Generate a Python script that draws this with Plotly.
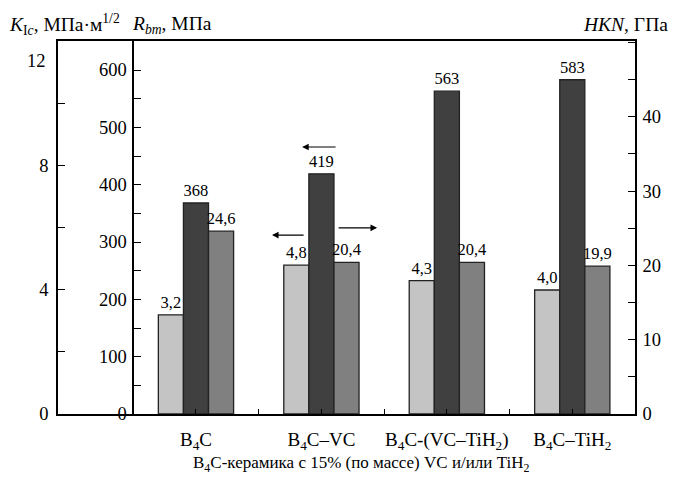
import plotly.graph_objects as go

categories = ["B<sub>4</sub>C", "B<sub>4</sub>C–VC", "B<sub>4</sub>C-(VC–TiH<sub>2</sub>)", "B<sub>4</sub>C–TiH<sub>2</sub>"]
k_ic = [3.2, 4.8, 4.3, 4.0]
r_bm = [368, 419, 563, 583]
hkn = [24.6, 20.4, 20.4, 19.9]

k_ticks = [0, 4, 8]
r_ticks = [0, 100, 200, 300, 400, 500, 600]
h_ticks = [0, 10, 20, 30, 40]

FONT = "Liberation Serif, Times New Roman, serif"
xpos = list(range(len(categories)))


def fmt(v, nd):
    return (f"{v:.{nd}f}").replace(".", ",")


fig = go.Figure()
common = dict(width=0.2, cliponaxis=False, textposition="outside",
              constraintext="none", textfont=dict(family=FONT, size=16.5, color="black"),
              showlegend=False, hoverinfo="skip")
fig.add_trace(go.Bar(x=xpos, y=k_ic, offset=-0.3, yaxis="y",
                     marker=dict(color="#c4c4c4", line=dict(color="#222222", width=1.3)),
                     text=[fmt(v, 1) for v in k_ic], **common))
fig.add_trace(go.Bar(x=xpos, y=r_bm, offset=-0.1, yaxis="y2",
                     marker=dict(color="#404040", line=dict(color="#222222", width=1.3)),
                     text=[fmt(v, 0) for v in r_bm], **common))
fig.add_trace(go.Bar(x=xpos, y=hkn, offset=0.1, yaxis="y3",
                     marker=dict(color="#808080", line=dict(color="#222222", width=1.3)),
                     text=[fmt(v, 1) for v in hkn], **common))

L, R, T, B = 58, 38, 41, 66
W, H = 673, 480
pw = W - L - R
ph = H - T - B

TICK_SIZE = 18.5
axis_common = dict(showgrid=False, zeroline=False, showline=True, linecolor="black",
                   linewidth=1.5, ticks="inside", ticklen=7, tickwidth=1.3, tickcolor="black",
                   tickfont=dict(family=FONT, size=TICK_SIZE, color="black"))

fig.update_layout(
    width=W, height=H,
    margin=dict(l=L, r=R, t=T, b=B, autoexpand=False),
    plot_bgcolor="white", paper_bgcolor="white",
    barmode="overlay",
    font=dict(family=FONT, size=16, color="black"),
    xaxis=dict(range=[-1.1, 3.5], tickvals=xpos, ticktext=categories,
               showgrid=False, zeroline=False, showline=True, mirror=True,
               linecolor="black", linewidth=1.5, ticks="inside", ticklen=5,
               tickwidth=1.3, tickcolor="black", ticklabelstandoff=7,
               tickfont=dict(family=FONT, size=19, color="black"),
               minor=dict(tickvals=[0.5, 1.5, 2.5], ticks="inside", ticklen=5,
                          tickwidth=1.3, tickcolor="black")),
    yaxis=dict(range=[0, 12.03], tickvals=k_ticks, side="left", anchor="x",
               minor=dict(tickvals=[2, 6, 10], ticks="inside", ticklen=7, tickwidth=1.3,
                          tickcolor="black"),
               ticklabelstandoff=4, **axis_common),
    yaxis2=dict(range=[0, 650.6], tickvals=r_ticks, side="left", overlaying="y",
                anchor="free", position=(133.3 - L) / pw,
                minor=dict(dtick=50, tick0=0, ticks="inside", ticklen=7, tickwidth=1.3,
                           tickcolor="black"),
                ticklabelstandoff=2, **axis_common),
    yaxis3=dict(range=[0, 50.2], tickvals=h_ticks, side="right", overlaying="y",
                anchor="x",
                minor=dict(dtick=5, tick0=0, ticks="inside", ticklen=7, tickwidth=1.3,
                           tickcolor="black"),
                ticklabelstandoff=2, **axis_common),
)

ann = []
# stray "12" label of the K axis
ann.append(dict(text="12", xref="paper", yref="y", x=(48 - L) / pw, y=11.4,
                xanchor="right", yanchor="middle", showarrow=False,
                font=dict(family=FONT, size=TICK_SIZE)))
# axis titles
TITLE_SIZE = 19.5
ann.append(dict(text="<i>K</i><sub>I<i>c</i></sub>, МПа·м<sup>1/2</sup>", xref="paper", yref="paper",
                x=(7 - L) / pw, y=1 + (T - 25) / ph, xanchor="left", yanchor="middle",
                showarrow=False, font=dict(family=FONT, size=TITLE_SIZE)))
ann.append(dict(text="<i>R</i><sub><i>bm</i></sub>, МПа", xref="paper", yref="paper",
                x=(130 - L) / pw, y=1 + (T - 25) / ph, xanchor="left", yanchor="middle",
                showarrow=False, font=dict(family=FONT, size=TITLE_SIZE)))
ann.append(dict(text="<i>HKN</i>, ГПа", xref="paper", yref="paper",
                x=(670 - L) / pw, y=1 + (T - 25) / ph, xanchor="right", yanchor="middle",
                showarrow=False, font=dict(family=FONT, size=TITLE_SIZE)))
ann.append(dict(text="B<sub>4</sub>C-керамика с 15% (по массе) VC и/или TiH<sub>2</sub>",
                xref="paper", yref="paper", x=(361 - L) / pw, y=-(464 - (H - B)) / ph,
                xanchor="center", yanchor="middle", showarrow=False,
                font=dict(family=FONT, size=17)))
# arrows showing which axis each series belongs to
arrow = dict(text="", showarrow=True, arrowhead=2, arrowsize=1.1, arrowwidth=1.2,
             arrowcolor="black", standoff=0, startstandoff=0)
ann.append(dict(xref="x", yref="y2", axref="x", ayref="y2", x=0.846, y=465.7,
                ax=1.125, ay=465.7, **arrow))
ann.append(dict(xref="x", yref="y", axref="x", ayref="y", x=0.606, y=5.77,
                ax=0.870, ay=5.77, **arrow))
ann.append(dict(xref="x", yref="y3", axref="x", ayref="y3", x=1.444, y=25.05,
                ax=1.125, ay=25.05, **arrow))
fig.update_layout(annotations=ann)

fig.write_html("out.html", config={"displayModeBar": False},
               post_script="document.body.style.margin='0';document.body.style.padding='0';")
